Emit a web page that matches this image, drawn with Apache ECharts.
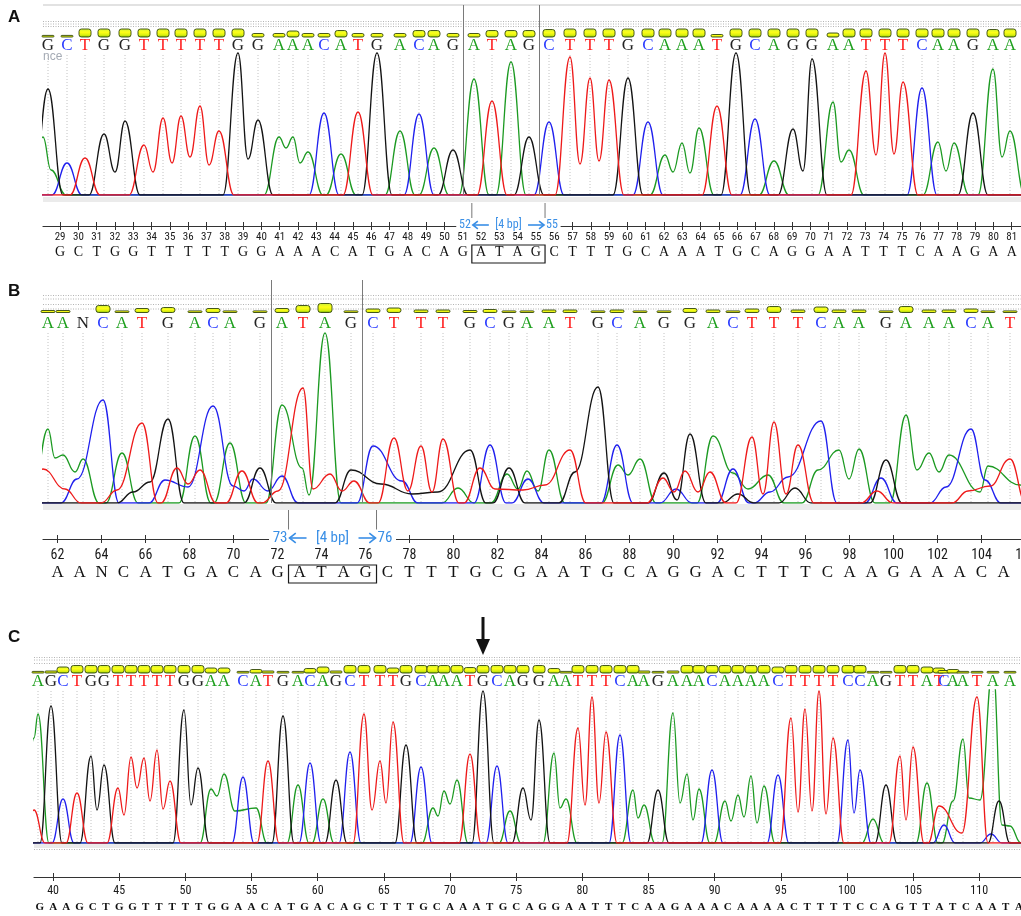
<!DOCTYPE html>
<html><head><meta charset="utf-8">
<script src="https://cdn.jsdelivr.net/npm/echarts@6/dist/echarts.min.js"></script>
<style>html,body{margin:0;padding:0;background:#fff}#c{width:1021px;height:916px}</style>
</head><body><div id="c"></div>
<script>
// ================= DATA =================
// Panel A : base calls (first = position 29), peak scan positions, peak heights, quality
const A_start = 29;
const A_bases = "GCTGGTTTTTGGAAACATGACAGATAGCTTTGCAAATGCAGGAATTTCAAGAA";
const A_scan = [5,24,42,61,82,101,120,138,157,176,195,215,236,250,265,281,298,315,334,357,376,391,410,431,449,468,486,506,527,547,566,585,605,622,639,656,674,693,712,731,750,769,790,806,823,842,860,879,895,911,930,950,967];
const A_heights = [106,32,37,61,74,50,77,79,89,64,142,75,58,58,43,82,41,83,142,64,81,47,45,116,94,133,58,73,138,117,115,117,73,40,52,67,89,142,76,34,66,136,93,45,124,142,113,107,53,52,82,126,64];
const A_quality = [4,4,32,32,32,32,32,32,32,32,32,14,14,24,14,14,26,14,14,14,26,26,14,14,26,26,26,30,32,32,32,32,32,32,32,32,10,32,32,32,32,32,16,32,32,32,32,32,32,32,32,30,32];
// extra trace points (valleys, shoulders, secondary peaks): [scan, base, height]
const A_extra = [[0,'A',58],[8,'A',25],[72,'G',23],[110,'T',23],[129,'T',32],[147,'T',38],[166,'T',30],[205,'G',36],[243,'A',47],[257,'A',32],[537,'T',31],[556,'T',34],[630,'A',23],[647,'A',22],[760,'G',24],[798,'A',33],[833,'T',40],[851,'T',41],[903,'A',24],[959,'A',38]];
const A_rulerTicks = [29,30,31,32,33,34,35,36,37,38,39,40,41,42,43,44,45,46,47,48,49,50,51,52,53,54,55,56,57,58,59,60,61,62,63,64,65,66,67,68,69,70,71,72,73,74,75,76,77,78,79,80,81];
const A_rulerSeqStart = 29;
const A_rulerSeq = "GCTGGTTTTTGGAAACATGACAGATAGCTTTGCAAATGCAGGAATTTCAAGAA";
const A_insert = [52,55];

// Panel B
const B_start = 62;
const B_bases = "AANCATGACAGATAGCTTTGCGAATGCAGGACTTTCAAGAAACAT";
const B_scan = [5,20,40,60,79,99,125,152,170,187,217,239,260,282,308,330,351,378,400,427,447,466,484,506,527,555,574,597,621,647,670,690,709,731,755,778,796,816,843,863,886,906,928,945,967];
const B_heights = [74,48,0,103,50,80,84,67,97,60,35,98,115,170,33,57,65,57,64,53,58,35,32,53,53,116,58,44,30,69,67,34,66,81,58,82,53,54,43,88,50,48,74,37,44];
const B_quality = [8,8,0,28,6,16,20,6,16,6,4,16,28,36,4,14,18,10,10,8,12,4,4,10,10,4,10,4,4,16,10,4,14,24,10,22,10,10,4,24,10,10,14,4,6];
const B_extra = [
 [12,'A',45],[32,'A',31],[40,'A',44],[259,'A',35],[266,'A',8],[415,'A',15],[464,'A',29],[475,'A',14],[495,'A',12],
 [575,'A',38],[585,'A',28],[690,'A',30],[705,'A',14],[725,'A',28],[775,'A',33],[806,'A',24],[874,'A',33],[896,'A',31],[937,'A',11],[977,'A',18],
 [34,'C',24],[122,'C',23],[145,'C',16],[190,'C',17],[201,'C',12],[210,'C',24],[225,'C',12],[239,'C',27],[359,'C',22],
 [485,'C',24],[633,'C',14],[727,'C',11],[745,'C',26],[838,'C',25],[903,'C',16],[942,'C',23],
 [0,'T',34],[22,'T',14],[74,'T',13],[134,'T',35],[145,'T',19],[157,'T',33],[199,'T',32],[235,'T',12],[270,'T',14],[287,'T',29],
 [299,'T',12],[311,'T',22],[365,'T',12],[389,'T',11],[437,'T',35],[452,'T',14],[480,'T',13],[502,'T',18],[620,'T',25],
 [631,'T',11],[642,'T',32],[655,'T',11],[667,'T',31],[720,'T',9],[743,'T',9],[834,'T',12],[925,'T',12],[947,'T',17],
 [90,'G',11],[107,'G',21],[338,'G',19],[369,'G',9],[395,'G',11],[532,'G',31],[634,'G',3],[695,'G',9],[752,'G',15]
];
const B_rulerTicks = [62,64,66,68,70,72,74,76,78,80,82,84,86,88,90,92,94,96,98,100,102,104,106];
const B_rulerSeqStart = 62;
const B_rulerSeq = "AANCATGACAGATAGCTTTGCGAATGCAGGACTTTCAAGAAACA";
const B_insert = [73,76];

// Panel C
const C_start = 41;
const C_bases = "AGCTGGTTTTTGGAACATGACAGCTTTGCAAATGCAGGAATTTCAAGAAACAAAACTTTTCCAGTTATCAATAA";
const C_scan = [4,17,29,43,57,70,84,97,110,123,136,150,164,177,190,209,222,234,249,264,276,289,302,316,330,346,359,372,387,399,410,423,436,449,463,476,489,505,520,532,544,558,572,586,599,610,624,639,653,665,678,691,704,717,730,744,757,771,785,799,814,826,839,852,866,879,893,905,910,919,929,943,959,976];
const C_heights = [129,137,44,50,87,78,55,86,85,93,62,133,75,54,69,66,35,82,127,58,80,44,63,91,129,82,121,98,76,35,52,63,89,152,77,32,55,123,90,44,115,146,111,108,53,38,53,130,69,54,73,42,48,67,57,68,125,134,152,105,103,73,24,58,87,96,60,37,18,42,104,146,175,17];
const C_quality = [4,8,24,30,30,30,30,30,30,30,30,30,30,20,20,6,14,8,6,6,18,24,8,30,30,30,20,30,30,30,30,30,22,30,30,30,30,30,18,6,30,30,30,30,30,8,4,8,30,30,30,30,30,30,30,24,30,30,30,30,30,30,6,6,30,30,24,20,10,14,4,4,4,4];
const C_extra = [
 [0,'A',105],[0,'T',33],[63,'G',33],[90,'T',28],[103,'T',55],[116,'T',42],[129,'T',34],[157,'G',38],[183,'A',47],[201,'A',32],
 [338,'T',33],[352,'T',40],[404,'A',27],[416,'A',39],[497,'G',23],[526,'A',35],[551,'T',38],[565,'T',40],[604,'A',25],
 [646,'A',40],[659,'A',23],[697,'A',22],[710,'A',26],[723,'A',20],[764,'T',31],[778,'T',32],[792,'T',29],[820,'C',30],
 [872,'T',23],[935,'A',45],[946,'A',43],[968,'A',18],[928,'T',10],[957,'C',9],[965,'G',42]
];
const C_rulerTicks = [40,45,50,55,60,65,70,75,80,85,90,95,100,105,110];
const C_rulerSeqStart = 39;
const C_rulerSeq = "GAAGCTGGTTTTTGGAACATGACAGCTTTGCAAATGCAGGAATTTCAAGAAACAAAACTTTTCCAGTTATCAATA";
const C_markedBase = 74;

// ================= STYLE / LAYOUT =================
const TRACE = {A:'#1c9a22', C:'#2020ee', G:'#141414', T:'#ee1a1a'};
const LETTER = {A:'#1fa01f', C:'#2b3cff', G:'#222222', T:'#ff1f1f', N:'#222222'};
const NARROW = '"Liberation Sans Narrow", "Arial Narrow", "Roboto Condensed", "DejaVu Sans Condensed", sans-serif';
const SERIF = '"Liberation Serif", "DejaVu Serif", serif';
const BLUE = '#3a8fe6';

const panels = [
 {name:'A', bases:A_bases, scan:A_scan, heights:A_heights, quality:A_quality, extra:A_extra, insert:A_insert,
  ruler:{ticks:A_rulerTicks, seq:A_rulerSeq, seqStart:A_rulerSeqStart},
  L:{grid:{left:43, top:5, width:978, height:190}, xmax:978, ymax:190, hw:15, letterY:41, barBottom:32, dotTop:50, barW:12,
     rgrid:{left:43, top:203, height:23}, rmin:28.066, rmax:81.6, unit:18.3, numSize:11, numMargin:6, seqSize:14, seqWeight:'normal', seqMargin:19,
     boxTop:19, boxH:18, bSize:12, arrowLen:17}},
 {name:'B', bases:B_bases, scan:B_scan, heights:B_heights, quality:B_quality, extra:B_extra, insert:B_insert,
  ruler:{ticks:B_rulerTicks, seq:B_rulerSeq, seqStart:B_rulerSeqStart},
  L:{grid:{left:43, top:280, width:978, height:223}, xmax:978, ymax:223, hw:16, letterY:44, barBottom:32.5, dotTop:53, barW:14,
     rgrid:{left:43, top:510, height:29}, rmin:61.34, rmax:106.5, unit:22, numSize:14, numMargin:9, seqSize:17, seqWeight:'normal', seqMargin:25,
     boxTop:26, boxH:18, bSize:15, arrowLen:18}},
 {name:'C', bases:C_bases, scan:C_scan, heights:C_heights, quality:C_quality, extra:C_extra, insert:null, mark:C_markedBase, start:C_start,
  ruler:{ticks:C_rulerTicks, seq:C_rulerSeq, seqStart:C_rulerSeqStart},
  L:{grid:{left:34, top:690, width:987, height:153}, xmax:987, ymax:153, hw:11, letterY:-8, barBottom:-17, dotTop:1, barW:12,
     rgrid:{left:34, top:849, height:28}, rmin:38.556, rmax:114.2, unit:13.23, numSize:12, numMargin:8, seqSize:11, seqWeight:'bold', seqMargin:25}}
];
const starts = {A:A_start, B:B_start, C:C_start};

function buildTrace(P, b){
  const pts = [];
  P.bases.split('').forEach((c,i)=>{ if(c===b && P.heights[i]>0) pts.push([P.scan[i], P.heights[i]]); });
  P.extra.forEach(e=>{ if(e[1]===b) pts.push([e[0], e[2]]); });
  pts.sort((u,v)=>u[0]-v[0]);
  const hw = P.L.hw, out = [[-30,0]];
  pts.forEach((p,k)=>{
    const q = pts[k-1];
    if(!q || p[0]-q[0] > 2*hw+1){ if(q) out.push([q[0]+hw,0]); if(p[0]-hw > -30) out.push([p[0]-hw,0]); }
    out.push(p);
  });
  if(pts.length) out.push([pts[pts.length-1][0]+hw,0]);
  out.push([P.L.xmax+30,0]);
  return out;
}

const barGrad = new echarts.graphic.LinearGradient(0,0,0,1,[
  {offset:0,color:'#c6ee3a'},{offset:0.4,color:'#ffff18'},{offset:0.75,color:'#d8ee10'},{offset:1,color:'#58a800'}]);

const grids=[], xAxes=[], yAxes=[], series=[];
panels.forEach((P,pi)=>{
  const L = P.L;
  const gT = grids.length;
  grids.push(Object.assign({outerBoundsMode:'none', show:false}, L.grid));
  const gR = grids.length;
  grids.push({outerBoundsMode:'none', show:false, left:L.rgrid.left, top:L.rgrid.top, height:L.rgrid.height, width:(L.rmax-L.rmin)*L.unit});
  const xT = xAxes.length;
  xAxes.push({type:'value', gridIndex:gT, min:0, max:L.xmax, show:false});
  const yT = yAxes.length;
  yAxes.push({type:'value', gridIndex:gT, min:0, max:L.ymax, show:false});
  const yR = yAxes.length;
  yAxes.push({type:'value', gridIndex:gR, min:0, max:1, show:false});
  const xR = xAxes.length;
  const rb = {type:'value', gridIndex:gR, min:L.rmin, max:L.rmax, splitLine:{show:false}, position:'bottom'};
  const seqVals = P.ruler.seq.split('').map((c,i)=>P.ruler.seqStart+i);
  xAxes.push(Object.assign({}, rb, {axisLine:{show:true, lineStyle:{color:'#333', width:1.2}},
    axisTick:{show:true, customValues:P.ruler.ticks, length:4, lineStyle:{color:'#333', width:1}},
    axisLabel:{show:true, customValues:P.ruler.ticks, margin:L.numMargin, fontSize:L.numSize, fontFamily:NARROW, color:'#1a1a1a'}}));
  xAxes.push(Object.assign({}, rb, {axisLine:{show:false},
    axisTick:{show:true, inside:true, customValues:P.ruler.ticks, length:4, lineStyle:{color:'#333', width:1}}, axisLabel:{show:false}}));
  xAxes.push(Object.assign({}, rb, {axisLine:{show:false}, axisTick:{show:false},
    axisLabel:{show:true, customValues:seqVals, formatter:v=>P.ruler.seq[Math.round(v)-P.ruler.seqStart]||'',
      margin:L.seqMargin, fontSize:L.seqSize, fontWeight:L.seqWeight, fontFamily:SERIF, color:'#111'}}));

  // bases: dotted guide, quality bar, letter
  series.push({type:'custom', xAxisIndex:xT, yAxisIndex:yT, z:1, silent:true, animation:false,
    data:P.bases.split('').map((c,i)=>[P.scan[i], P.quality[i], i]),
    encode:{x:0, y:1},
    renderItem:(params, api)=>{
      const i = api.value(2), b = P.bases[i], q = api.value(1);
      const x = api.coord([api.value(0),0])[0];
      const cs = params.coordSys, top = cs.y, bot = cs.y+cs.height;
      const kids = [{type:'line', shape:{x1:x, y1:top+L.dotTop, x2:x, y2:bot}, style:{stroke:'#c2c2c2', lineWidth:1, lineDash:[1,2]}}];
      if(q>0){ const h = Math.max(q*0.25, 1.6);
        kids.push({type:'rect', shape:{x:x-L.barW/2, y:top+L.barBottom-h, width:L.barW, height:h, r:Math.min(2.5,h/2)},
          style:{fill:barGrad, stroke:'#34470c', lineWidth:0.9}}); }
      kids.push({type:'text', style:{text:b, x:x, y:top+L.letterY, align:'center', verticalAlign:'middle',
          font:'17px '+SERIF, fill:LETTER[b]}});
      return {type:'group', children:kids};
    }});

  // traces
  let cursors = [];
  if(P.insert){
    const s0 = P.insert[0]-starts[P.name], e0 = P.insert[1]-starts[P.name];
    cursors = [(P.scan[s0-1]+P.scan[s0])/2, (P.scan[e0]+P.scan[e0+1])/2];
  }
  ['A','C','G','T'].forEach((b,k)=>{
    const s = {type:'line', xAxisIndex:xT, yAxisIndex:yT, z:3, data:buildTrace(P,b), smooth:0.45, smoothMonotone:'x',
      showSymbol:false, symbol:'none', clip:true, animation:false, silent:true,
      lineStyle:{color:TRACE[b], width:1.3}};
    if(k===0 && cursors.length){
      s.markLine = {silent:true, symbol:['none','none'], animation:false, label:{show:false},
        lineStyle:{color:'#7a7a7a', type:'solid', width:1}, data:cursors.map(v=>({xAxis:v}))};
    }
    series.push(s);
  });

  // insertion bracket + box on ruler
  if(P.insert){
    series.push({type:'custom', xAxisIndex:xR, yAxisIndex:yR, z:5, silent:true, animation:false,
      data:[[P.insert[0], P.insert[1]]],
      renderItem:(params, api)=>{
        const s = api.value(0), e = api.value(1);
        const x1 = api.coord([s-0.5,0])[0], x2 = api.coord([e+0.5,0])[0];
        const cs = params.coordSys, ay = cs.y+cs.height, y = ay-1, fs = L.bSize, al = L.arrowLen;
        const hd = fs*0.32;
        const font = fs+'px '+NARROW;
        return {type:'group', children:[
          {type:'line', shape:{x1:x1, y1:cs.y, x2:x1, y2:ay}, style:{stroke:'#777', lineWidth:1}},
          {type:'line', shape:{x1:x2, y1:cs.y, x2:x2, y2:ay}, style:{stroke:'#777', lineWidth:1}},
          {type:'rect', shape:{x:x1-fs*1.3, y:y-fs/2-1, width:x2-x1+fs*2.6, height:fs+2}, style:{fill:'#fff'}},
          {type:'text', style:{text:String(s), x:x1-1, y:y, align:'right', verticalAlign:'middle', font:font, fill:BLUE}},
          {type:'line', shape:{x1:x1+1, y1:y, x2:x1+al, y2:y}, style:{stroke:BLUE, lineWidth:1.6}},
          {type:'polyline', shape:{points:[[x1+1+hd*1.3,y-hd],[x1+1,y],[x1+1+hd*1.3,y+hd]]}, style:{stroke:BLUE, lineWidth:1.6, fill:null}},
          {type:'text', style:{text:'['+(e-s+1)+' bp]', x:(x1+x2)/2, y:y, align:'center', verticalAlign:'middle', font:font, fill:BLUE}},
          {type:'line', shape:{x1:x2-al, y1:y, x2:x2-1, y2:y}, style:{stroke:BLUE, lineWidth:1.6}},
          {type:'polyline', shape:{points:[[x2-1-hd*1.3,y-hd],[x2-1,y],[x2-1-hd*1.3,y+hd]]}, style:{stroke:BLUE, lineWidth:1.6, fill:null}},
          {type:'text', style:{text:String(e), x:x2+1, y:y, align:'left', verticalAlign:'middle', font:font, fill:BLUE}},
          {type:'rect', shape:{x:x1, y:ay+L.boxTop, width:x2-x1, height:L.boxH}, style:{fill:null, stroke:'#1a1a1a', lineWidth:1.2}}
        ]};
      }});
  }
  // arrow marking a base (panel C)
  if(P.mark){
    series.push({type:'custom', xAxisIndex:xT, yAxisIndex:yT, z:5, silent:true, animation:false,
      data:[[P.scan[P.mark-P.start], 0]],
      renderItem:(params, api)=>{
        const x = api.coord([api.value(0),0])[0], top = params.coordSys.y;
        return {type:'group', children:[
          {type:'line', shape:{x1:x, y1:top-73, x2:x, y2:top-48}, style:{stroke:'#111', lineWidth:3}},
          {type:'polygon', shape:{points:[[x-7,top-51],[x+7,top-51],[x,top-35]]}, style:{fill:'#111'}}
        ]};
      }});
  }
});

// decorative chrome
const graphic = [];
function dotRow(x, y, w){ graphic.push({type:'line', silent:true, shape:{x1:x, y1:y, x2:x+w, y2:y}, style:{stroke:'#b4b4b4', lineWidth:1, lineDash:[1,1.5]}}); }
function band(x, y, w, h){ graphic.push({type:'rect', silent:true, z:-1, shape:{x:x, y:y, width:w, height:h}, style:{fill:'#ebebeb'}}); }
function plabel(t, y){ graphic.push({type:'text', silent:true, style:{text:t, x:8, y:y, verticalAlign:'middle', font:'bold 17px "Liberation Sans", Arial, sans-serif', fill:'#111'}}); }
plabel('A', 17); plabel('B', 291); plabel('C', 637);
graphic.push({type:'rect', silent:true, shape:{x:43, y:4, width:978, height:2}, style:{fill:'#e2e2e2'}});
[21.5, 24, 26.5].forEach(y=>dotRow(43, y, 978));
[295.5, 299, 304.5, 309].forEach(y=>dotRow(43, y, 978));
[657.5, 660, 663.5].forEach(y=>dotRow(34, y, 987));
dotRow(34, 849.5, 987);
band(43, 197, 978, 5); band(43, 504, 978, 6); band(34, 844, 987, 4);
graphic.push({type:'text', silent:true, style:{text:'nce', x:43, y:57, verticalAlign:'middle', font:'12px "Liberation Sans", sans-serif', fill:'#a4aab4'}});

const chart = echarts.init(document.getElementById('c'), null, {renderer:'canvas'});
chart.setOption({
  backgroundColor:'#ffffff', animation:false,
  grid:grids, xAxis:xAxes, yAxis:yAxes, series:series, graphic:graphic
});
</script></body></html>
